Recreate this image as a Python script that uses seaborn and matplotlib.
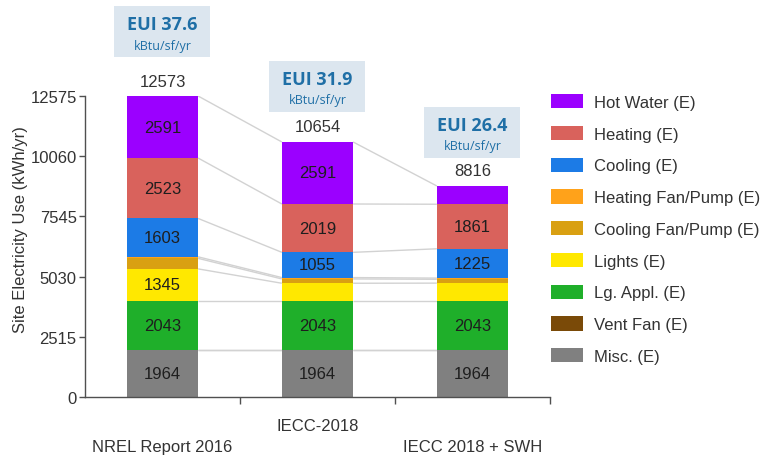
import numpy as np
import pandas as pd
import matplotlib
matplotlib.use("Agg")
import matplotlib.pyplot as plt
import matplotlib.patches as mpatches
import matplotlib.transforms as mtransforms
import seaborn as sns

# ---------------- data ----------------
categories = ["NREL Report 2016", "IECC-2018", "IECC 2018 + SWH"]
end_uses = ["Hot Water (E)", "Heating (E)", "Cooling (E)", "Heating Fan/Pump (E)",
            "Cooling Fan/Pump (E)", "Lights (E)", "Lg. Appl. (E)", "Vent Fan (E)", "Misc. (E)"]
hot_water = [2591, 2591, 763]
heating = [2523, 2019, 1861]
cooling = [1603, 1055, 1225]
heating_fan_pump = [64, 57, 50]
cooling_fan_pump = [440, 180, 160]
lights = [1345, 745, 750]
lg_appl = [2043, 2043, 2043]
vent_fan = [0, 0, 0]
misc = [1964, 1964, 1964]
totals = [12573, 10654, 8816]
eui_values = ["37.6", "31.9", "26.4"]
eui_unit = "kBtu/sf/yr"
y_ticks = [0, 2515, 5030, 7545, 10060, 12575]
y_label = "Site Electricity Use (kWh/yr)"

series = [hot_water, heating, cooling, heating_fan_pump, cooling_fan_pump,
          lights, lg_appl, vent_fan, misc]
colors = ["#9B00FF", "#D9625C", "#1C7BE6", "#FFA21A", "#D9A012",
          "#FFE800", "#1FAF2A", "#7A4A08", "#808080"]

# ---------------- styling ----------------
sns.set_theme(style="white")
plt.rcParams["font.family"] = ["Liberation Sans", "DejaVu Sans"]
text_color = "#333333"
axis_color = "#505050"

fig = plt.figure(figsize=(7.66, 4.64), dpi=100)
ax = fig.add_axes([85 / 766, 1 - 398 / 464, 465 / 766, 301 / 464])

rows = []
for name, vals in zip(end_uses, series):
    for i, v in enumerate(vals):
        rows.append({"pos": i, "end_use": name, "value": v})
df = pd.DataFrame(rows)

bar_width = 0.46
palette = dict(zip(end_uses, colors))
sns.histplot(data=df, x="pos", weights="value", hue="end_use", hue_order=end_uses,
             multiple="stack", discrete=True, shrink=bar_width, palette=palette,
             alpha=1, linewidth=0, edgecolor="none", legend=False, ax=ax, zorder=2)

ax.set_xlim(-0.5, len(categories) - 0.5)
ax.set_ylim(0, y_ticks[-1])
ax.set_xlabel("")
ax.set_ylabel("")

# cumulative boundaries, bottom-up
bottom_up = list(zip(end_uses, series))[::-1]
n = len(categories)
cum = np.zeros(n)
tops = []
for name, vals in bottom_up:
    base = cum.copy()
    cum = cum + np.array(vals, dtype=float)
    tops.append(cum.copy())
    for i in range(n):
        if vals[i] >= 1000:
            ax.text(i, base[i] + vals[i] / 2, f"{vals[i]}", ha="center", va="center",
                    fontsize=12, color="#1e1e1e", zorder=4)

# connector lines between bars
for t in tops:
    for i in range(n - 1):
        ax.plot([i + bar_width / 2, i + 1 - bar_width / 2], [t[i], t[i + 1]],
                color="#d2d2d2", lw=1.0, zorder=1, solid_capstyle="butt")

# totals
for i, tot in enumerate(totals):
    ax.annotate(f"{tot}", xy=(i, tot), xytext=(0, 15), textcoords="offset pixels",
                ha="center", va="center", fontsize=12, color=text_color,
                annotation_clip=False)

# EUI boxes
box_offsets = [39, 30, 28]
box_w, box_h = 96, 51
for i, (ev, tot) in enumerate(zip(eui_values, totals)):
    x0, y0 = ax.transData.transform((i, tot))
    yb = y0 + box_offsets[i]
    rect = mpatches.Rectangle((x0 - box_w / 2, yb), box_w, box_h,
                              transform=mtransforms.IdentityTransform(),
                              facecolor="#DCE6EF", edgecolor="none", zorder=3)
    fig.add_artist(rect)
    fig.text(x0 / 766, (yb + 33) / 464, f"EUI {ev}", ha="center", va="center",
             fontsize=13, fontweight="bold", color="#1F6FA6",
             family=["Open Sans", "DejaVu Sans"], zorder=4)
    fig.text(x0 / 766, (yb + 12) / 464, eui_unit, ha="center", va="center",
             fontsize=9, color="#1F6FA6", family=["Open Sans", "DejaVu Sans"], zorder=4)

# axes styling
for side in ["top", "right"]:
    ax.spines[side].set_visible(False)
for side in ["left", "bottom"]:
    ax.spines[side].set_color(axis_color)
    ax.spines[side].set_linewidth(1.0)

ax.set_yticks(y_ticks)
ax.set_yticklabels([str(v) for v in y_ticks])
ax.tick_params(axis="y", left=True, length=4, width=1, color=axis_color,
               labelsize=12, labelcolor=text_color, pad=2)
ax.set_xticks([i + 0.5 for i in range(n)])
ax.set_xticklabels([])
ax.tick_params(axis="x", bottom=True, length=5, width=1, color=axis_color)

label_offsets = [50, 29, 50]
for i, (cat, off) in enumerate(zip(categories, label_offsets)):
    ax.annotate(cat, xy=(i, 0), xycoords=ax.get_xaxis_transform(),
                xytext=(0, -off), textcoords="offset pixels", ha="center", va="center",
                fontsize=12, color=text_color, annotation_clip=False)

fig.text(21 / 766, 1 - 230 / 464, y_label, rotation=90, ha="center", va="center",
         fontsize=12, color=text_color)

# legend
handles = [mpatches.Patch(facecolor=c, edgecolor="none", label=l)
           for l, c in zip(end_uses, colors)]
fig.legend(handles=handles, loc="upper left", bbox_to_anchor=(551 / 766, 1 - 95 / 464),
           frameon=False, fontsize=12, handlelength=1.9, handleheight=0.95,
           handletextpad=0.7, labelspacing=0.95, borderpad=0, borderaxespad=0,
           labelcolor=text_color)

fig.savefig("out.png", dpi=100)
